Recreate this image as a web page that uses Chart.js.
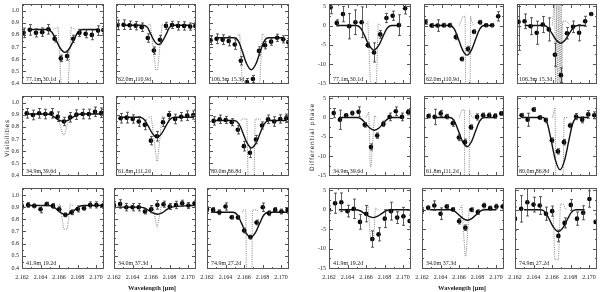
<!DOCTYPE html>
<html><head><meta charset="utf-8">
<script src="https://cdn.jsdelivr.net/npm/chart.js@4.4.0/dist/chart.umd.min.js"></script>
<style>
html,body{margin:0;padding:0;background:#fff;}
body{width:600px;height:292px;position:relative;overflow:hidden;font-family:'Liberation Serif',serif;color:#222;}
canvas{position:absolute;}
.t{position:absolute;white-space:nowrap;font-size:6px;line-height:6px;color:#222;}
</style></head><body>
<script>
// ---------- wavelengths (micron) ----------
const lamA = [2.16217, 2.16284, 2.16351, 2.16418, 2.16485, 2.16552, 2.16619, 2.16686, 2.16753, 2.1682, 2.16887, 2.16954, 2.17021, 2.17078];
const lamB = [2.16251, 2.16318, 2.16385, 2.16452, 2.16519, 2.16586, 2.16653, 2.1672, 2.16787, 2.16854, 2.16921, 2.16988, 2.17055];
const lamC = [2.16199, 2.16266, 2.16333, 2.164, 2.16467, 2.16534, 2.16601, 2.16668, 2.16735, 2.16802, 2.16869, 2.16936, 2.17003, 2.1707];

const xTickVals = [2.162, 2.164, 2.166, 2.168, 2.170];
const xMinorVals = [2.163, 2.165, 2.167, 2.169];
const visTickVals = [0.4, 0.5, 0.6, 0.7, 0.8, 0.9, 1.0];
const visMinorVals = [0.45, 0.55, 0.65, 0.75, 0.85, 0.95, 1.05];
const phTickVals = [-15, -10, -5, 0, 5];
const phMinorVals = [-12.5, -7.5, -2.5, 2.5];

const panelLabels = ["77.1m  30.1d", "62.0m  110.9d", "106.3m  15.3d",
                     "34.9m  39.6d", "61.8m  111.2d", "80.0m  86.8d",
                     "41.9m  19.2d", "34.0m  37.3d", "74.9m  27.2d"];

// ---------- visibilities ----------
const vis1 = [0.817, 0.842, 0.817, 0.823, 0.847, 0.768, 0.605, 0.624, 0.768, 0.817, 0.809, 0.80, 0.836, 0.84];
const vis1Err = [0.04, 0.044, 0.034, 0.035, 0.04, 0.027, 0.027, 0.034, 0.03, 0.03, 0.033, 0.04, 0.04, 0.03];
const vis2 = [0.883, 0.885, 0.88, 0.877, 0.864, 0.774, 0.67, 0.76, 0.875, 0.883, 0.875, 0.875, 0.869, 0.875];
const vis2Err = [0.04, 0.04, 0.035, 0.035, 0.035, 0.035, 0.03, 0.035, 0.03, 0.03, 0.035, 0.035, 0.03, 0.03];
const vis3 = [0.755, 0.768, 0.76, 0.749, 0.72, 0.585, 0.408, 0.433, 0.667, 0.714, 0.744, 0.776, 0.763, 0.74];
const vis3Err = [0.035, 0.04, 0.04, 0.04, 0.04, 0.035, 0.03, 0.03, 0.035, 0.03, 0.03, 0.03, 0.03, 0.03];
const vis4 = [0.913, 0.899, 0.913, 0.907, 0.913, 0.885, 0.845, 0.88, 0.902, 0.907, 0.907, 0.926, 0.918];
const vis4Err = [0.04, 0.04, 0.04, 0.04, 0.04, 0.04, 0.035, 0.04, 0.04, 0.04, 0.04, 0.04, 0.04];
const vis5 = [0.872, 0.877, 0.866, 0.845, 0.817, 0.686, 0.722, 0.839, 0.899, 0.866, 0.885, 0.894, 0.899];
const vis5Err = [0.04, 0.045, 0.035, 0.04, 0.04, 0.035, 0.04, 0.035, 0.03, 0.04, 0.035, 0.04, 0.035];
const vis6 = [0.85, 0.864, 0.858, 0.839, 0.776, 0.64, 0.585, 0.695, 0.812, 0.864, 0.845, 0.866, 0.872];
const vis6Err = [0.035, 0.035, 0.03, 0.03, 0.035, 0.04, 0.04, 0.035, 0.03, 0.035, 0.04, 0.035, 0.035];
const vis7 = [0.905, 0.918, 0.91, 0.883, 0.926, 0.91, 0.883, 0.836, 0.858, 0.885, 0.891, 0.918, 0.918, 0.91];
const vis7Err = [0.02, 0.02, 0.015, 0.03, 0.015, 0.02, 0.02, 0.015, 0.02, 0.025, 0.015, 0.025, 0.025, 0.02];
const vis8 = [0.913, 0.926, 0.899, 0.899, 0.899, 0.864, 0.883, 0.918, 0.924, 0.905, 0.918, 0.932, 0.913, 0.932];
const vis8Err = [0.02, 0.035, 0.03, 0.03, 0.03, 0.02, 0.03, 0.035, 0.025, 0.025, 0.03, 0.025, 0.025, 0.025];
const vis9 = [0.883, 0.877, 0.858, 0.905, 0.817, 0.815, 0.708, 0.654, 0.774, 0.899, 0.85, 0.877, 0.864, 0.877];
const vis9Err = [0.02, 0.02, 0.02, 0.03, 0.015, 0.015, 0.02, 0.015, 0.02, 0.035, 0.02, 0.02, 0.02, 0.02];

// fitted model (solid) and high-resolution model (dotted)
const vis1Fit = [[2.16284,.845],[2.16473,.845],[2.16523,.822],[2.16563,.765],[2.16613,.689],[2.16663,.655],[2.16713,.689],[2.16763,.765],[2.16803,.822],[2.16853,.845],[2.17021,.845]];
const vis2Fit = [[2.16264,.88],[2.165,.88],[2.1655,.861],[2.1658,.813],[2.16625,.749],[2.1667,.72],[2.16715,.749],[2.1676,.813],[2.1679,.861],[2.1684,.88],[2.17021,.88]];
const vis3Fit = [[2.16284,.776],[2.16478,.776],[2.16528,.744],[2.16568,.664],[2.16618,.558],[2.16668,.51],[2.16718,.558],[2.16768,.664],[2.16808,.744],[2.16858,.776],[2.17021,.776]];
const vis4Fit = [[2.16251,.907],[2.1646,.907],[2.1651,.9],[2.1655,.881],[2.166,.856],[2.1665,.845],[2.167,.856],[2.1675,.881],[2.1679,.9],[2.1684,.907],[2.17055,.907]];
const vis5Fit = [[2.16251,.88],[2.16464,.88],[2.16514,.86],[2.16554,.81],[2.16604,.744],[2.16654,.714],[2.16704,.744],[2.16754,.81],[2.16794,.86],[2.16844,.88],[2.17055,.88]];
const vis6Fit = [[2.16251,.853],[2.16481,.853],[2.16531,.826],[2.16571,.758],[2.16621,.667],[2.16671,.626],[2.16721,.667],[2.16771,.758],[2.16811,.826],[2.16861,.853],[2.17055,.853]];
const vis7Fit = [[2.16245,.913],[2.16486,.913],[2.16536,.904],[2.16576,.881],[2.16626,.85],[2.16676,.836],[2.16726,.85],[2.16776,.881],[2.16816,.904],[2.16866,.913],[2.1707,.913]];
const vis8Fit = [[2.16236,.9],[2.16478,.9],[2.16528,.893],[2.16568,.876],[2.16618,.852],[2.16668,.842],[2.16718,.853],[2.16768,.879],[2.16808,.897],[2.16858,.905],[2.1707,.915]];
const vis9Fit = [[2.16245,.858],[2.16481,.858],[2.16531,.833],[2.16571,.771],[2.16621,.688],[2.16671,.651],[2.16721,.688],[2.16771,.771],[2.16811,.833],[2.16861,.858],[2.17064,.858]];

const vis1Model = [[2.1654,.845],[2.1659,.865],[2.16628,.3],[2.16692,.3],[2.1673,.865],[2.1678,.845]];
const vis2Model = [[2.1655,.88],[2.1658,.89],[2.1664,.51],[2.1666,.51],[2.1671,.89],[2.1674,.88]];
const vis3Model = [[2.1650,.776],[2.1654,.81],[2.16575,.3],[2.16755,.3],[2.1679,.81],[2.1683,.776]];
const vis4Model = [[2.1658,.907],[2.1664,.735],[2.1666,.735],[2.1672,.907]];
const vis5Model = [[2.1656,.88],[2.1659,.885],[2.1665,.517],[2.1666,.517],[2.1671,.885],[2.1674,.88]];
const vis6Model = [[2.1655,.853],[2.1657,.866],[2.1662,.866],[2.16633,.3],[2.16697,.3],[2.1671,.866],[2.1676,.866],[2.1678,.853]];
const vis7Model = [[2.1658,.913],[2.1661,.926],[2.1665,.72],[2.1669,.72],[2.1672,.926],[2.1675,.913]];
const vis8Model = [[2.1659,.9],[2.1662,.91],[2.1666,.74],[2.1667,.74],[2.1671,.91],[2.1674,.903]];
const vis9Model = [[2.1658,.858],[2.1659,.877],[2.1662,.877],[2.16625,.3],[2.16685,.3],[2.1669,.877],[2.1674,.877],[2.1675,.858]];

// ---------- differential phases (deg) ----------
const ph1 = [4.77, 0.68, 2.98, -0.17, 0.85, 0.85, -5.1, -7.0, -2.3, 1.96, 2.55, 0.1, 4.5];
const ph1Err = [1.7, 0.8, 2.0, 3.3, 3.2, 4.0, 0.6, 2.5, 1.0, 1.2, 1.2, 2.7, 1.5];
const ph2 = [0.94, 0, 0, 0.09, 0.09, -2.98, -8.7, -6.1, -1.6, 0.85, 0.09, 0.09, 2.4];
const ph2Err = [0.6, 0.5, 1.5, 0.5, 0.5, 0.7, 0.5, 0.7, 0.5, 0.5, 0.4, 0.4, 1.2];
const ph3 = [0.94, 1.1, -0.17, -1.87, 0.26, -1.0, -7.6, -12.9, -2.0, -0.34, -1.87, 1.1, 3.0];
const ph3Err = [7.4, 1.9, 2.2, 3.0, 2.1, 3.0, 3.0, 1.9, 1.5, 1.5, 2.1, 1.3, 0.4];
const ph4 = [1.15, -0.58, 0.58, 1.15, 1.48, -1.9, -7.65, -4.7, -1.65, 0.16, 1.65, 0.16, 1.4];
const ph4Err = [1.2, 2.5, 0.4, 0.5, 1.3, 0.6, 0.8, 0.7, 0.7, 1.0, 1.1, 1.0, 0.7];
const ph5 = [0.41, 0.16, 1.07, 0.25, -1.48, -5.2, -6.4, -2.5, 0.16, 0.58, 0.58, 0.41, 1.07];
const ph5Err = [0.5, 2.0, 0.8, 0.6, 0.8, 0.8, 0.8, 0.6, 0.8, 0.6, 0.6, 0.6, 0.5];
const ph6 = [0.58, -0.58, 2.06, 0, -0.66, -5.9, -8.8, -6.4, -2.06, 0.25, -0.58, 0.82, 0.58];
const ph6Err = [0.5, 1.7, 0.5, 0.5, 0.5, 0.6, 0.7, 0.7, 0.6, 0.8, 0.8, 1.0, 0.9];
const ph7 = [0, 1.68, 1.93, -0.34, 0.25, -3.1, -1.0, -7.5, -6.3, -2.27, -0.34, -2.0, -1.68, -2.86];
const ph7Err = [1.0, 2.6, 2.4, 1.5, 2.5, 1.9, 2.1, 2.1, 1.7, 2.3, 2.3, 1.5, 2.3, 1.5];
const ph8 = [-0.17, 0.5, 1.1, -1.0, 0.84, 0.08, -2.94, -4.6, 0, -0.59, 1.1, 0.42, 0.84, 0.84];
const ph8Err = [0.7, 0.5, 1.2, 1.5, 0.5, 0.5, 0.7, 0.7, 0.5, 0.6, 0.6, 0.5, 0.6, 0.6];
const ph9 = [-2.27, 0.25, 1.93, 1.34, 1.1, -1.0, -0.34, -6.7, -3.36, 1.26, -2.27, -0.76, 2.77, -3.1];
const ph9Err = [3.0, 3.4, 3.5, 1.9, 2.3, 1.7, 1.3, 1.5, 1.3, 1.4, 1.7, 1.8, 2.1, 2.0];

const ph1Fit = [[2.16284,0],[2.16495,0],[2.16545,-.77],[2.16585,-2.69],[2.16635,-5.25],[2.16685,-6.4],[2.16735,-5.25],[2.16785,-2.69],[2.16825,-.77],[2.16875,0],[2.16954,0]];
const ph2Fit = [[2.16284,0],[2.16486,0],[2.16536,-.92],[2.16576,-3.23],[2.16626,-6.31],[2.16676,-7.7],[2.16726,-6.31],[2.16776,-3.23],[2.16816,-.92],[2.16866,0],[2.16954,0]];
const ph3Fit = [[2.16284,0],[2.16493,0],[2.16543,-.55],[2.16583,-1.93],[2.16633,-3.77],[2.16683,-4.6],[2.16733,-3.77],[2.16783,-1.93],[2.16823,-.55],[2.16873,0],[2.16954,0]];
const ph4Fit = [[2.16306,0],[2.165,0],[2.1655,-.4],[2.1659,-1.39],[2.1664,-2.71],[2.1669,-3.3],[2.1674,-2.71],[2.1679,-1.39],[2.1683,-.4],[2.1688,0],[2.16998,0]];
const ph5Fit = [[2.16303,0],[2.16486,0],[2.16536,-.91],[2.16576,-3.19],[2.16626,-6.23],[2.16676,-7.6],[2.16726,-6.23],[2.16776,-3.19],[2.16816,-.91],[2.16866,0],[2.16988,0]];
const ph6Fit = [[2.16251,0],[2.16486,0],[2.16536,-1.63],[2.16576,-5.71],[2.16626,-11.15],[2.16676,-13.6],[2.16726,-11.15],[2.16776,-5.71],[2.16816,-1.63],[2.16866,0],[2.16988,0]];
const ph7Fit = [[2.16306,0],[2.16486,0],[2.16536,-.24],[2.16576,-.84],[2.16626,-1.64],[2.16676,-2],[2.16726,-1.64],[2.16776,-.84],[2.16816,-.24],[2.16866,0],[2.1707,0]];
const ph8Fit = [[2.16288,0],[2.165,0],[2.1655,-.32],[2.1659,-1.13],[2.1664,-2.21],[2.1669,-2.7],[2.1674,-2.21],[2.1679,-1.13],[2.1683,-.32],[2.1688,0],[2.17003,0]];
const ph9Fit = [[2.16296,0],[2.16478,0],[2.16528,-.67],[2.16568,-2.35],[2.16618,-4.59],[2.16668,-5.6],[2.16718,-4.59],[2.16768,-2.35],[2.16808,-.67],[2.16858,0],[2.16951,0]];

const ph1Model = [[2.1659,0],[2.1662,1],[2.1665,-17],[2.1671,-17],[2.1673,0.5],[2.1676,0]];
const ph2Model = [[2.1659,0],[2.1663,2.4],[2.16655,2.4],[2.1666,-17],[2.1671,-17],[2.16715,2.4],[2.1673,1],[2.1675,0]];
const ph3Model = [[2.1659,0],[2.16616,6],[2.16628,-17],[2.1664,6],[2.16652,-17],[2.16664,6],[2.16676,-17],[2.16688,6],[2.16697,-17],[2.16702,1.1],[2.1675,1.1],[2.1679,0]];
const ph4Model = [[2.166,0],[2.1663,1.5],[2.16645,-12.8],[2.16655,-12.8],[2.1669,0.5],[2.1672,0]];
const ph5Model = [[2.1659,0],[2.1662,2],[2.16647,2],[2.1665,-17],[2.167,-17],[2.16703,2],[2.1672,0.5],[2.1675,0]];
const ph6Model = [[2.1659,0],[2.1662,2.6],[2.1663,-17],[2.1671,-17],[2.1672,0],[2.1676,0]];
const ph7Model = [[2.1659,0],[2.1662,1.1],[2.1665,-8],[2.1668,-8],[2.167,0.5],[2.1673,0]];
const ph8Model = [[2.166,0],[2.1663,1.1],[2.16665,-11.9],[2.16675,-11.9],[2.1671,0.3],[2.1674,0]];
const ph9Model = [[2.1659,0],[2.1661,0.5],[2.1663,-12.8],[2.1667,-12.8],[2.1669,1.5],[2.1672,1.5],[2.1675,0]];

// ---------- layout ----------
const visLefts = [22, 114, 207];
const phLefts = [329, 422, 515];
const rowTops = [3, 95, 187];
const panelW = 83, panelH = 82;
const xMin = 2.162, xMax = 2.17085;
const visRange = [0.392, 1.057];
const phRange = [-15.2, 5.6];
const FONT = "'Liberation Serif', 'Times New Roman', serif";

const framePlugin = {
  id: 'frame',
  afterDraw(chart) {
    const {ctx, chartArea: a, scales: {x, y}} = chart;
    const kind = chart.options.plugins.frame.kind;
    ctx.save();
    ctx.strokeStyle = '#555';
    ctx.lineWidth = 1;
    ctx.strokeRect(Math.round(a.left) + 0.5, Math.round(a.top) + 0.5, Math.round(a.width) - 1, Math.round(a.height) - 1);
    ctx.beginPath();
    const tx = (vals, len) => vals.forEach(v => {
      const px = Math.round(x.getPixelForValue(v)) + 0.5;
      ctx.moveTo(px, a.bottom); ctx.lineTo(px, a.bottom - len);
      ctx.moveTo(px, a.top); ctx.lineTo(px, a.top + len);
    });
    const ty = (vals, len) => vals.forEach(v => {
      const py = Math.round(y.getPixelForValue(v)) + 0.5;
      if (py < a.top || py > a.bottom) return;
      ctx.moveTo(a.left, py); ctx.lineTo(a.left + len, py);
      ctx.moveTo(a.right, py); ctx.lineTo(a.right - len, py);
    });
    tx(xTickVals, 4); tx(xMinorVals, 2);
    if (kind === 'vis') { ty(visTickVals, 4); ty(visMinorVals, 2); }
    else { ty(phTickVals, 4); ty(phMinorVals, 2); }
    ctx.stroke();
    ctx.restore();
  }
};

const errPlugin = {
  id: 'errbars',
  afterDatasetsDraw(chart) {
    const ds = chart.data.datasets[0];
    if (!ds.errs) return;
    const meta = chart.getDatasetMeta(0);
    const {ctx, chartArea: a, scales: {y}} = chart;
    ctx.save();
    ctx.beginPath(); ctx.rect(a.left, a.top, a.width, a.height); ctx.clip();
    ctx.strokeStyle = '#333'; ctx.lineWidth = 0.8;
    ctx.beginPath();
    meta.data.forEach((pt, i) => {
      const v = ds.data[i].y, e = ds.errs[i];
      const y1 = y.getPixelForValue(v + e), y2 = y.getPixelForValue(v - e);
      const px = Math.round(pt.x) + 0.5;
      ctx.moveTo(px, y1); ctx.lineTo(px, y2);
      ctx.moveTo(px - 1.5, y1); ctx.lineTo(px + 1.5, y1);
      ctx.moveTo(px - 1.5, y2); ctx.lineTo(px + 1.5, y2);
    });
    ctx.stroke();
    ctx.restore();
  }
};

function addText(txt, left, top, extra) {
  const d = document.createElement('div');
  d.className = 't';
  d.textContent = txt;
  d.style.left = left + 'px';
  d.style.top = top + 'px';
  if (extra) Object.assign(d.style, extra);
  document.body.appendChild(d);
  return d;
}

function addPanel(p) {
  const {kind, row, col, lam, vals, errs, fit, model, label} = p;
  const left = (kind === 'vis' ? visLefts : phLefts)[col];
  const top = rowTops[row];
  const padL = col === 0 ? 22 : (row === 2 ? 10 : 2), padR = 3, padT = 3, padB = row === 2 ? 16 : 3;
  const W = panelW + padL + padR, H = panelH + padT + padB;
  const cv = document.createElement('canvas');
  cv.width = W; cv.height = H;
  cv.style.left = (left - padL) + 'px'; cv.style.top = (top - padT) + 'px';
  cv.style.width = W + 'px'; cv.style.height = H + 'px';
  document.body.appendChild(cv);
  const yr = kind === 'vis' ? visRange : phRange;
  const yTicks = kind === 'vis' ? visTickVals : phTickVals;
  new Chart(cv, {
    type: 'scatter',
    data: {
      datasets: [
        { data: vals.map((v, i) => ({x: lam[i], y: v})), errs: errs,
          pointRadius: 2.3, pointBackgroundColor: '#000', pointBorderWidth: 0, clip: 0 },
        { data: fit, showLine: true, pointRadius: 0, borderColor: '#111', borderWidth: 1.4,
          cubicInterpolationMode: 'monotone', clip: 0 },
        { data: model, showLine: true, pointRadius: 0, borderColor: '#666', borderWidth: 0.8,
          borderDash: [1, 1.2], tension: 0, clip: 0 }
      ]
    },
    options: {
      responsive: false, animation: false, devicePixelRatio: 1, events: [],
      layout: {padding: {left: 0, top: padT, right: padR, bottom: 0}},
      plugins: {legend: {display: false}, tooltip: {enabled: false}, frame: {kind: kind}},
      scales: {
        x: {
          type: 'linear', min: xMin, max: xMax,
          grid: {display: false, drawTicks: false}, border: {display: false},
          ticks: {display: row === 2, autoSkip: false, maxRotation: 0, padding: 5,
                  color: '#222', font: {family: FONT, size: 6},
                  callback: v => v.toFixed(3)},
          afterBuildTicks: s => { s.ticks = xTickVals.map(v => ({value: v})); },
          afterFit: s => { s.height = padB; s.paddingLeft = 0; s.paddingRight = 0; }
        },
        y: {
          type: 'linear', min: yr[0], max: yr[1],
          grid: {display: false, drawTicks: false}, border: {display: false},
          ticks: {display: col === 0, autoSkip: false, padding: 3,
                  color: '#222', font: {family: FONT, size: 6},
                  callback: v => kind === 'vis' ? v.toFixed(1) : String(v)},
          afterBuildTicks: s => { s.ticks = yTicks.map(v => ({value: v})); },
          afterFit: s => { s.width = padL; s.paddingTop = 0; s.paddingBottom = 0; }
        }
      }
    },
    plugins: [framePlugin, errPlugin]
  });
  addText(label, left + 4, top + panelH - 9);
}

const lams = [lamA, lamA, lamA, lamB, lamB, lamB, lamC, lamC, lamC];
const visVals = [vis1, vis2, vis3, vis4, vis5, vis6, vis7, vis8, vis9];
const visErrs = [vis1Err, vis2Err, vis3Err, vis4Err, vis5Err, vis6Err, vis7Err, vis8Err, vis9Err];
const visFits = [vis1Fit, vis2Fit, vis3Fit, vis4Fit, vis5Fit, vis6Fit, vis7Fit, vis8Fit, vis9Fit];
const visModels = [vis1Model, vis2Model, vis3Model, vis4Model, vis5Model, vis6Model, vis7Model, vis8Model, vis9Model];
const phVals = [ph1, ph2, ph3, ph4, ph5, ph6, ph7, ph8, ph9];
const phErrs = [ph1Err, ph2Err, ph3Err, ph4Err, ph5Err, ph6Err, ph7Err, ph8Err, ph9Err];
const phFits = [ph1Fit, ph2Fit, ph3Fit, ph4Fit, ph5Fit, ph6Fit, ph7Fit, ph8Fit, ph9Fit];
const phModels = [ph1Model, ph2Model, ph3Model, ph4Model, ph5Model, ph6Model, ph7Model, ph8Model, ph9Model];

for (let i = 0; i < 9; i++) {
  const row = Math.floor(i / 3), col = i % 3;
  addPanel({kind: 'vis', row, col, lam: lams[i], vals: visVals[i], errs: visErrs[i], fit: visFits[i], model: visModels[i], label: panelLabels[i]});
  addPanel({kind: 'ph', row, col, lam: lams[i], vals: phVals[i], errs: phErrs[i], fit: phFits[i], model: phModels[i], label: panelLabels[i]});
}

// axis titles
addText('Visibilities', 7, 138, {transform: 'translate(-50%,-50%) rotate(-90deg)', fontFamily: "'DejaVu Sans', sans-serif", letterSpacing: '0.6px', fontSize: '6px'});
addText('Differential phase', 312, 137, {transform: 'translate(-50%,-50%) rotate(-90deg)', fontFamily: "'DejaVu Sans', sans-serif", letterSpacing: '0.8px', fontSize: '6px'});
addText('Wavelength [\u03bcm]', 152, 288, {transform: 'translate(-50%,-50%)', fontWeight: 'bold', fontSize: '6.5px'});
addText('Wavelength [\u03bcm]', 462, 288, {transform: 'translate(-50%,-50%)', fontWeight: 'bold', fontSize: '6.5px'});
</script>
</body></html>
